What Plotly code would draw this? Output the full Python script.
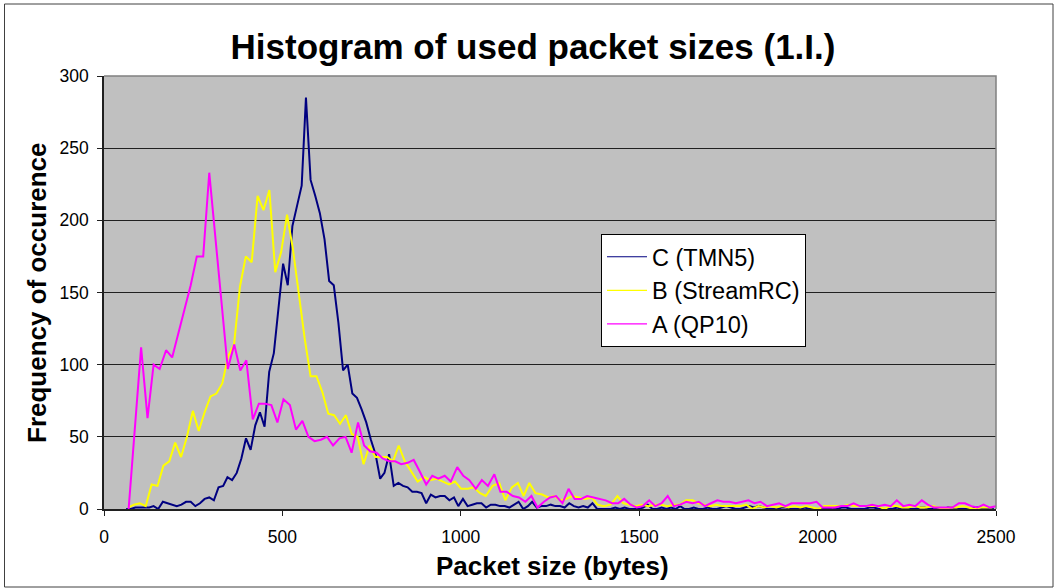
import plotly.graph_objects as go

# ---------------- data ----------------
c_x = [62, 75, 88, 101, 114, 127, 139, 152, 165, 178, 191, 204, 217, 230, 243, 256, 269, 282, 295, 308,
       321, 334, 346, 359, 372, 385, 398, 411, 424, 437, 450, 463, 476, 489, 502, 515, 528, 541, 554, 566,
       579, 592, 605, 618, 631, 644, 657, 670, 683, 696, 709, 722, 735, 748, 761, 774, 786, 799, 812, 825,
       838, 851, 864, 877, 890, 903, 916, 929, 942, 955, 968, 981, 993, 1006, 1019, 1032, 1045, 1058, 1071, 1084,
       1097, 1110, 1123, 1136, 1149, 1162, 1175, 1188, 1200, 1213, 1226, 1239, 1252, 1265, 1278, 1291, 1304, 1317, 1330, 1343,
       1356, 1369, 1382, 1395, 1408, 1420, 1433, 1446, 1459, 1472, 1485, 1498, 1511, 1524, 1537, 1550, 1563, 1576, 1589, 1602,
       1615, 1627, 1640, 1653, 1666, 1679, 1692, 1705, 1718, 1731, 1744, 1757, 1770, 1783, 1796, 1809, 1822, 1835, 1848, 1860,
       1873, 1886, 1899, 1912, 1925, 1938, 1951, 1964, 1977, 1990, 2003, 2016, 2029, 2042, 2055, 2067, 2080, 2093, 2106, 2119,
       2132, 2145, 2158, 2171, 2184, 2197, 2210, 2223, 2236, 2249, 2262, 2274, 2287, 2300, 2313, 2326, 2339, 2352, 2365, 2378,
       2391, 2404, 2417, 2430, 2443, 2456, 2469, 2481, 2494]
c_y = [0, 0, 1, 1, 1, 1, 2, 0, 5, 4, 3, 2, 3, 5, 5, 2, 4, 7, 8, 6,
       15, 16, 22, 20, 25, 35, 49, 41, 58, 67, 57, 95, 108, 140, 170, 155, 196, 210, 224, 285,
       228, 217, 205, 187, 158, 155, 129, 96, 100, 80, 77, 69, 60, 48, 38, 21, 25, 38, 16, 18,
       16, 15, 12, 12, 11, 4, 10, 8, 9, 9, 6, 8, 2, 7, 2, 3, 4, 4, 1, 3,
       3, 2, 2, 1, 3, 5, 0, 2, 5, 1, 2, 2, 3, 2, 2, 1, 4, 2, 1, 2,
       1, 4, 0, 0, 0, 0, 1, 0, 1, 0, 0, 0, 1, 3, 0, 0, 1, 0, 1, 0,
       2, 0, 0, 1, 0, 0, 1, 0, 0, 1, 2, 1, 0, 0, 1, 2, 1, 2, 1, 0,
       0, 0, 1, 1, 0, 0, 0, 1, 0, 0, 0, 0, 0, 1, 0, 1, 1, 0, 0, 0,
       0, 1, 1, 0, 0, 0, 0, 1, 0, 0, 0, 0, 1, 1, 0, 0, 0, 0, 1, 1,
       0, 0, 0, 0, 1, 1, 0, 0, 0]

b_x = [67.5, 84, 100.5, 117, 133.5, 150, 166.5, 183, 199.5, 216, 232.5, 249, 265.5, 282, 298.5, 315,
       331.5, 348, 364.5, 381, 397.5, 414, 430.5, 447, 463.5, 480, 496.5, 513, 529.5, 546, 562.5, 579,
       595.5, 612, 628.5, 645, 661.5, 678, 694.5, 711, 727.5, 744, 760.5, 777, 793.5,
       810, 826, 843, 862, 879, 898, 914, 932, 951, 967, 984, 1001, 1020, 1036, 1054, 1070, 1089, 1108,
       1125, 1143, 1160, 1176, 1192, 1209, 1228, 1245, 1261, 1280, 1296, 1312, 1331, 1348, 1367, 1383,
       1401, 1420, 1439, 1455, 1472, 1491, 1507, 1526, 1545, 1561, 1580, 1597, 1615, 1631, 1650,
       1666, 1682, 1699, 1716, 1733, 1750, 1766, 1783, 1800, 1817, 1834, 1850, 1867, 1884, 1901, 1918,
       1935, 1951, 1968, 1985, 2002, 2019, 2035, 2052, 2069, 2086, 2103, 2120, 2136, 2153, 2170, 2187,
       2204, 2221, 2237, 2254, 2271, 2288, 2305, 2322, 2338, 2355, 2372, 2389, 2406, 2422, 2439, 2456,
       2473, 2490]
b_y = [1, 3, 4, 2, 17, 16, 30, 33, 46, 36, 50, 68, 54, 67, 78, 80,
       87, 106, 114, 154, 175, 171, 217, 207, 221, 164, 178, 204, 180, 150, 118, 92,
       92, 81, 66, 65, 59, 65, 52, 50, 31, 44, 36, 36, 36,
       33, 44, 33, 26, 19, 22, 20, 21, 19, 17, 19, 14, 14, 15, 11, 9, 16, 18,
       6, 15, 18, 9, 18, 11, 10, 8, 9, 6, 7, 9, 8, 7, 8, 3,
       2, 3, 9, 4, 3, 2, 3, 2, 3, 3, 2, 3, 3, 6, 6,
       4, 3, 2, 3, 2, 2, 2, 2, 3, 0, 2, 1, 2, 1, 2, 1,
       2, 1, 2, 1, 0, 2, 2, 2, 2, 3, 2, 2, 2, 2, 2, 0,
       2, 2, 1, 1, 2, 1, 1, 2, 1, 0, 1, 1, 2, 1, 0, 1,
       1, 1]

a_x = [69, 87, 104, 122, 139, 156, 174, 191, 208, 226, 243, 260, 278, 295, 312, 330, 347, 365, 382, 399,
       417, 434, 451, 469, 486, 503, 521, 538, 556, 573, 590, 608, 625, 642, 660, 677, 694, 712, 729, 746,
       764, 781, 799, 816, 833, 851, 868, 885, 903, 920, 937, 955, 972, 990, 1007, 1024, 1042, 1059, 1076, 1094,
       1111, 1128, 1146, 1163, 1181, 1198, 1215, 1233, 1250, 1267, 1285, 1302, 1319, 1337, 1354, 1372, 1389, 1406, 1424, 1441,
       1458, 1476, 1493, 1510, 1528, 1545, 1563, 1580, 1597, 1615, 1632, 1649, 1667, 1684, 1701, 1719, 1736, 1753, 1771, 1788,
       1806, 1823, 1840, 1858, 1875, 1892, 1910, 1927, 1944, 1962, 1979, 1997, 2014, 2031, 2049, 2066, 2083, 2101, 2118, 2135,
       2153, 2170, 2188, 2205, 2222, 2240, 2257, 2274, 2292, 2309, 2326, 2344, 2361, 2378, 2396, 2413, 2431, 2448, 2465, 2483,
       2500]
a_y = [0, 56, 112, 63, 100, 97, 110, 105, 122, 138, 155, 175, 175, 233, 188, 143, 97, 114, 96, 103,
       62, 73, 73, 72, 60, 76, 72, 55, 61, 50, 47, 48, 50, 44, 49, 50, 39, 60, 44, 40,
       39, 35, 33, 33, 31, 32, 34, 26, 17, 23, 21, 23, 19, 29, 23, 20, 14, 20, 16, 24,
       12, 12, 9, 8, 5, 9, 1, 5, 8, 9, 4, 14, 7, 7, 9, 8, 7, 6, 4, 4,
       7, 3, 1, 2, 6, 2, 4, 9, 2, 3, 5, 4, 5, 2, 4, 6, 5, 5, 4, 5,
       6, 4, 5, 2, 3, 4, 2, 4, 4, 4, 4, 5, 1, 1, 1, 2, 2, 4, 2, 2,
       3, 2, 3, 2, 6, 2, 3, 2, 6, 3, 1, 1, 1, 1, 4, 4, 2, 1, 3, 1,
       2]

series_names = ["C (TMN5)", "B (StreamRC)", "A (QP10)"]
series_colors = ["#000080", "#FFFF00", "#FF00FF"]
x_ticks = [0, 500, 1000, 1500, 2000, 2500]
y_ticks = [0, 50, 100, 150, 200, 250, 300]

# ---------------- figure ----------------
W, H = 1055, 588
L, R, T, B = 104, 59, 76, 79
PW, PH = W - L - R, H - T - B
FONT = "Liberation Sans, Arial, sans-serif"

fig = go.Figure()
for xs, ys, name, col in zip([c_x, b_x, a_x], [c_y, b_y, a_y], series_names, series_colors):
    fig.add_trace(go.Scatter(x=xs, y=ys, mode="lines", name=name,
                             line=dict(color=col, width=2), showlegend=False,
                             hoverinfo="skip"))
for name, col in zip(series_names, series_colors):
    fig.add_trace(go.Scatter(x=[None], y=[None], mode="lines", name=name,
                             line=dict(color=col, width=1.2), showlegend=True))

def px_x(p):
    return (p - L) / PW

def px_y(p):
    return (H - B - p) / PH

fig.update_layout(
    width=W, height=H,
    margin=dict(l=L, r=R, t=T, b=B, pad=0),
    paper_bgcolor="white",
    plot_bgcolor="#C0C0C0",
    font=dict(family=FONT, color="black"),
    title=dict(text="Histogram of used packet sizes (1.I.)",
               font=dict(family=FONT, size=35, color="black", weight="bold"),
               x=533 / W, xref="container", xanchor="center",
               y=1 - 47 / H, yref="container", yanchor="middle"),
    xaxis=dict(range=[0, 2500], tickvals=x_ticks, ticktext=[str(v) for v in x_ticks],
               showgrid=False, zeroline=False, showline=True, linecolor="#202020", linewidth=1.5,
               ticks="outside", ticklen=5, tickcolor="#202020", tickwidth=1,
               tickfont=dict(family=FONT, size=17.5, color="black"), ticklabelstandoff=6),
    yaxis=dict(range=[0, 300], tickvals=y_ticks, ticktext=[str(v) for v in y_ticks],
               showgrid=True, gridcolor="#202020", gridwidth=1, zeroline=False,
               showline=True, linecolor="#202020", linewidth=1.5,
               ticks="outside", ticklen=5, tickcolor="#202020", tickwidth=1,
               tickfont=dict(family=FONT, size=17.5, color="black"), ticklabelstandoff=5),
    legend=dict(x=px_x(601), y=px_y(234), xanchor="left", yanchor="top",
                bgcolor="white", bordercolor="black", borderwidth=1,
                font=dict(family=FONT, size=23.5, color="black"),
                itemwidth=40, tracegroupgap=0, entrywidth=160),
    showlegend=True,
)

# plot-area border (top and right, gray)
fig.add_shape(type="path", xref="paper", yref="paper", path="M 0,1 L 1,1 L 1,0",
              line=dict(color="#808080", width=1.5), layer="above")
# outer chart border
fig.add_shape(type="rect", xref="paper", yref="paper",
              x0=px_x(4.5), x1=px_x(1053), y0=px_y(587), y1=px_y(4),
              line=dict(color="#404040", width=1), layer="above")

fig.add_annotation(text="Frequency of occurence", xref="paper", yref="paper",
                   x=px_x(37), y=px_y(293), xanchor="center", yanchor="middle",
                   textangle=-90, showarrow=False,
                   font=dict(family=FONT, size=26, color="black", weight="bold"))
fig.add_annotation(text="Packet size (bytes)", xref="paper", yref="paper",
                   x=px_x(552), y=px_y(566), xanchor="center", yanchor="middle",
                   showarrow=False,
                   font=dict(family=FONT, size=26, color="black", weight="bold"))

fig.write_html("out.html", config={"displayModeBar": False},
               post_script="document.body.style.margin='0';document.body.style.overflow='hidden';")
